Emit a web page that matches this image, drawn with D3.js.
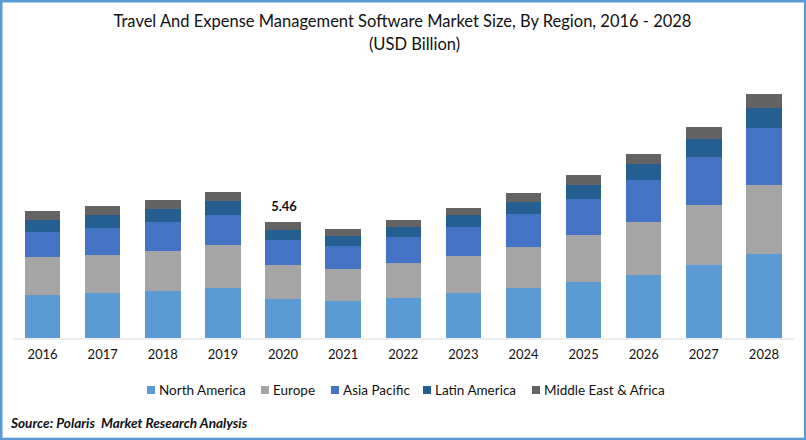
<!DOCTYPE html>
<html>
<head>
<meta charset="utf-8">
<script src="https://cdnjs.cloudflare.com/ajax/libs/d3/7.8.5/d3.min.js"></script>
<style>
html, body { margin: 0; padding: 0; background: #fff; }
svg { display: block; }
text { font-family: Lato, "Open Sans", sans-serif; fill: #111; }
</style>
</head>
<body>
<script>
const years = ["2016","2017","2018","2019","2020","2021","2022","2023","2024","2025","2026","2027","2028"];
const regions = ["North America","Europe","Asia Pacific","Latin America","Middle East & Africa"];
const colors = ["#5b9bd5","#a5a5a5","#4472c4","#255e91","#636363"];

const northAmerica = [2.02,2.12,2.21,2.35,1.83,1.74,1.88,2.12,2.35,2.64,2.96,3.44,3.95];
const europe       = [1.79,1.79,1.88,2.02,1.60,1.51,1.65,1.74,1.93,2.21,2.49,2.82,3.25];
const asiaPacific  = [1.18,1.27,1.36,1.41,1.18,1.08,1.22,1.36,1.55,1.69,1.98,2.26,2.68];
const latinAmerica = [0.56,0.61,0.61,0.66,0.47,0.47,0.47,0.56,0.56,0.66,0.75,0.85,0.94];
const middleEast   = [0.42,0.42,0.42,0.42,0.38,0.33,0.33,0.33,0.42,0.47,0.47,0.56,0.66];
const seriesValues = [northAmerica, europe, asiaPacific, latinAmerica, middleEast];

const titleLines = ["Travel And Expense Management Software Market Size, By Region, 2016 - 2028", "(USD Billion)"];
const callout = {year: "2020", label: "5.46"};

const width = 806, height = 440;

const svg = d3.select("body").append("svg")
    .attr("width", width)
    .attr("height", height);

// frame
svg.append("rect")
    .attr("x", 1).attr("y", 1)
    .attr("width", 804.5).attr("height", 438.2)
    .attr("fill", "#fff")
    .attr("stroke", "#5b9bd5")
    .attr("stroke-width", 3);

// second title line sits right of centre in the original
const titleX = [402.5, 414.5];
svg.selectAll(".title")
    .data(titleLines)
    .join("text")
    .attr("class", "title")
    .attr("x", (d, i) => titleX[i])
    .attr("y", (d, i) => 27 + i * 23)
    .attr("text-anchor", "middle")
    .style("font-size", "16.5px")
    .text(d => d);

const x = d3.scaleBand()
    .domain(years)
    .range([12.5, 794])
    .paddingInner(0.41)
    .paddingOuter(0.205);

const y = d3.scaleLinear()
    .domain([0, 12])
    .range([338, 83]);

const rows = years.map((yr, i) => {
    const row = {year: yr};
    regions.forEach((r, j) => { row[r] = seriesValues[j][i]; });
    return row;
});
const stacked = d3.stack().keys(regions)(rows);

svg.append("g")
    .selectAll("g")
    .data(stacked)
    .join("g")
    .attr("fill", (d, i) => colors[i])
    .selectAll("rect")
    .data(d => d)
    .join("rect")
    .attr("x", d => x(d.data.year))
    .attr("y", d => y(d[1]))
    .attr("width", x.bandwidth())
    .attr("height", d => y(d[0]) - y(d[1]))
    .attr("shape-rendering", "crispEdges");

const axis = svg.append("g")
    .attr("transform", "translate(0,338.5)")
    .call(d3.axisBottom(x).tickSize(0).tickPadding(11));
axis.select(".domain").attr("stroke", "#d9d9d9").attr("stroke-width", 1.2);
axis.selectAll("text")
    .style("font-family", "Lato")
    .style("font-size", "13px")
    .style("fill", "#111");

// data label over the 2020 stack
const calloutTotal = d3.sum(seriesValues, s => s[years.indexOf(callout.year)]);
svg.append("text")
    .attr("x", x(callout.year) + x.bandwidth() / 2 + 1)
    .attr("y", y(calloutTotal) - 11)
    .attr("text-anchor", "middle")
    .style("font-size", "13px")
    .style("font-weight", "700")
    .text(callout.label);

// legend
const legendX = [147, 261, 331, 423, 532];
const legend = svg.append("g").selectAll("g")
    .data(regions)
    .join("g")
    .attr("transform", (d, i) => "translate(" + legendX[i] + ",386)");
legend.append("rect")
    .attr("width", 8).attr("height", 8)
    .attr("fill", (d, i) => colors[i]);
legend.append("text")
    .attr("x", 12)
    .attr("y", 9)
    .style("font-size", "13.5px")
    .text(d => d);

svg.append("text")
    .attr("x", 11)
    .attr("y", 428)
    .style("font-size", "13.6px")
    .style("font-weight", "700")
    .style("font-style", "italic")
    .style("white-space", "pre")
    .text("Source: Polaris  Market Research Analysis");
</script>
</body>
</html>
